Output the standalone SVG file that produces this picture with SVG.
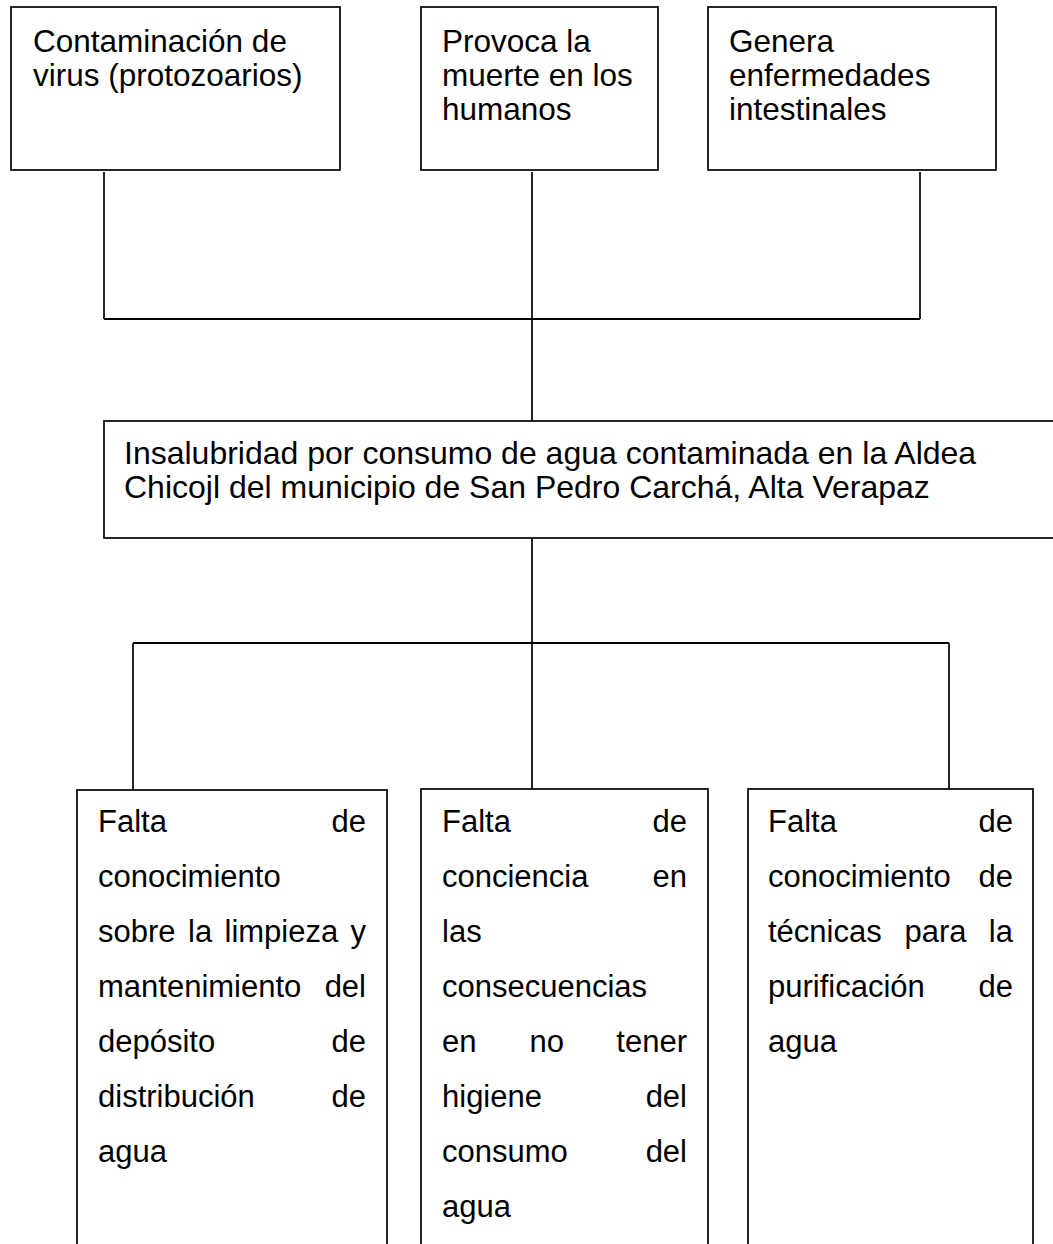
<svg xmlns="http://www.w3.org/2000/svg" width="1053" height="1244" viewBox="0 0 1053 1244">
<style>
.box{fill:#fff;stroke:#000;stroke-width:1.7}
.ln{stroke:#000;stroke-width:1.7;fill:none}
.hl{stroke:#000;stroke-width:2.2;fill:none}
text{font-family:"Liberation Sans",Arial,sans-serif;font-size:31px;fill:#000}
.t{font-size:31.5px}
.m{font-size:32px}
.e{text-anchor:end}
</style>
<rect width="1053" height="1244" fill="#fff"/>
<g id="connectors">
<line class="ln" x1="104" y1="172" x2="104" y2="319"/>
<line class="ln" x1="532" y1="172" x2="532" y2="421"/>
<line class="ln" x1="920" y1="172" x2="920" y2="319"/>
<line class="hl" x1="104" y1="319" x2="920" y2="319"/>
<line class="ln" x1="532" y1="538" x2="532" y2="789"/>
<line class="hl" x1="133" y1="643" x2="949" y2="643"/>
<line class="ln" x1="133" y1="643" x2="133" y2="789"/>
<line class="ln" x1="949" y1="643" x2="949" y2="789"/>
</g>
<g id="node-contaminacion">
<rect class="box" x="11" y="7" width="329" height="163"/>
<text class="t" x="33" y="52">Contaminación de</text>
<text class="t" x="33" y="86">virus (protozoarios)</text>
</g>
<g id="node-provoca">
<rect class="box" x="421" y="7" width="237" height="163"/>
<text class="t" x="442" y="52">Provoca la</text>
<text class="t" x="442" y="86">muerte en los</text>
<text class="t" x="442" y="120">humanos</text>
</g>
<g id="node-genera">
<rect class="box" x="708" y="7" width="288" height="163"/>
<text class="t" x="729" y="52">Genera</text>
<text class="t" x="729" y="86">enfermedades</text>
<text class="t" x="729" y="120">intestinales</text>
</g>
<g id="node-insalubridad">
<rect class="box" x="104" y="421" width="960" height="117"/>
<text class="m" x="124" y="464">Insalubridad por consumo de agua contaminada en la Aldea</text>
<text class="m" x="124" y="498">Chicojl del municipio de San Pedro Carchá, Alta Verapaz</text>
</g>
<g id="node-falta-limpieza">
<rect class="box" x="77" y="790" width="310" height="470"/>
<text x="98" y="832">Falta</text><text class="e" x="366" y="832">de</text>
<text x="98" y="887">conocimiento</text>
<text x="98" y="942">sobre</text><text x="188" y="942">la</text><text x="224.5" y="942">limpieza</text><text class="e" x="366" y="942">y</text>
<text x="98" y="997">mantenimiento</text><text class="e" x="366" y="997">del</text>
<text x="98" y="1052">depósito</text><text class="e" x="366" y="1052">de</text>
<text x="98" y="1107">distribución</text><text class="e" x="366" y="1107">de</text>
<text x="98" y="1162">agua</text>
</g>
<g id="node-falta-conciencia">
<rect class="box" x="421" y="789" width="287" height="470"/>
<text x="442" y="832">Falta</text><text class="e" x="687" y="832">de</text>
<text x="442" y="887">conciencia</text><text class="e" x="687" y="887">en</text>
<text x="442" y="942">las</text>
<text x="442" y="997">consecuencias</text>
<text x="442" y="1052">en</text><text x="529.5" y="1052">no</text><text class="e" x="687" y="1052">tener</text>
<text x="442" y="1107">higiene</text><text class="e" x="687" y="1107">del</text>
<text x="442" y="1162">consumo</text><text class="e" x="687" y="1162">del</text>
<text x="442" y="1217">agua</text>
</g>
<g id="node-falta-tecnicas">
<rect class="box" x="748" y="789" width="285" height="470"/>
<text x="768" y="832">Falta</text><text class="e" x="1013" y="832">de</text>
<text x="768" y="887">conocimiento</text><text class="e" x="1013" y="887">de</text>
<text x="768" y="942">técnicas</text><text x="904.5" y="942">para</text><text class="e" x="1013" y="942">la</text>
<text x="768" y="997">purificación</text><text class="e" x="1013" y="997">de</text>
<text x="768" y="1052">agua</text>
</g>
</svg>
